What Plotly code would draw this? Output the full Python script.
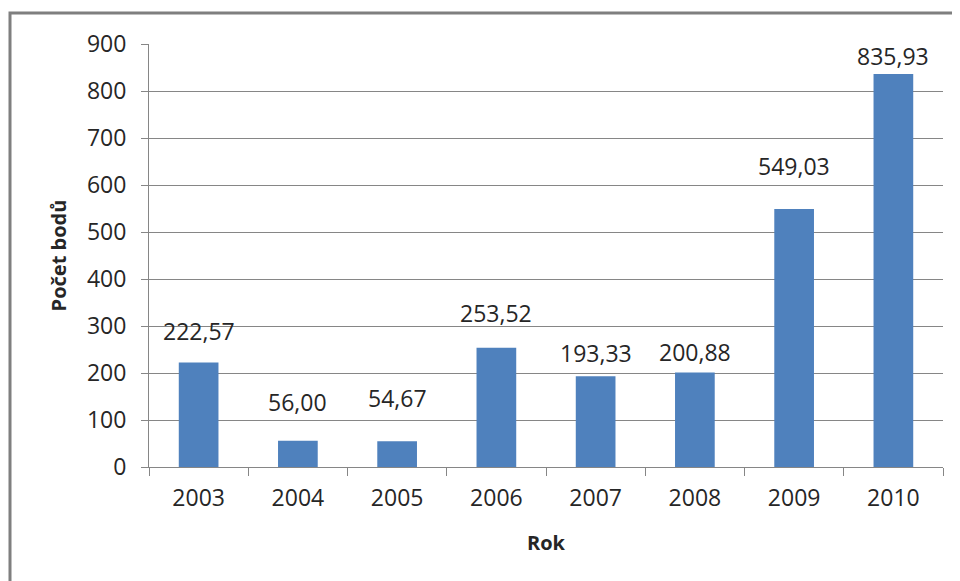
import plotly.graph_objects as go

years = ["2003", "2004", "2005", "2006", "2007", "2008", "2009", "2010"]
points = [222.57, 56.00, 54.67, 253.52, 193.33, 200.88, 549.03, 835.93]
labels = ["222,57", "56,00", "54,67", "253,52", "193,33", "200,88", "549,03", "835,93"]

# pixel gap between each bar top and the bottom of its label (style only)
label_gap_px = [13, 21, 25, 17, 5, 3, 25, 0]

FONT = "Open Sans"
TXT = "#262626"
GRID = "#868686"

fig = go.Figure(go.Bar(
    x=years, y=points,
    marker=dict(color="#4F81BD", line=dict(width=0)),
    width=0.4,
))

# category axis: annotation x given as the category index
for i, (v, lab, g) in enumerate(zip(points, labels, label_gap_px)):
    fig.add_annotation(x=i, y=v, text=lab, showarrow=False,
                       yanchor="bottom", yshift=g,
                       font=dict(family=FONT, size=23, color=TXT))

fig.update_layout(
    width=960, height=581,
    margin=dict(l=141, r=25, t=36, b=122),
    plot_bgcolor="white", paper_bgcolor="white",
    showlegend=False,
    font=dict(family=FONT, size=23, color=TXT),
    xaxis=dict(
        type="category",
        range=[-0.5, len(years) - 0.5],
        title=dict(text="<b>Rok</b>", font=dict(family=FONT, size=20, color=TXT), standoff=24),
        showline=True, linecolor=GRID, linewidth=1,
        ticks="outside", ticklen=8, tickcolor=GRID, tickson="boundaries",
        tickfont=dict(family=FONT, size=23, color=TXT),
        ticklabelstandoff=10, tickangle=0,
        showgrid=False,
    ),
    yaxis=dict(
        title=dict(text="<b>Počet bodů</b>", font=dict(family=FONT, size=20, color=TXT), standoff=14),
        range=[0, 900], dtick=100,
        showline=True, linecolor=GRID, linewidth=1,
        ticks="outside", ticklen=7, tickcolor=GRID,
        showgrid=True, gridcolor=GRID, gridwidth=1,
        zeroline=False,
        ticklabelstandoff=10,
        tickfont=dict(family=FONT, size=23, color=TXT),
    ),
    bargap=0.6,
)

# outer chart frame
fig.add_shape(type="rect", xref="paper", yref="paper",
              x0=-139/794, x1=1.2, y0=-0.5, y1=1 + 31/423,
              line=dict(color="#7F7F7F", width=3), layer="below")

fig.write_html("out.html")
